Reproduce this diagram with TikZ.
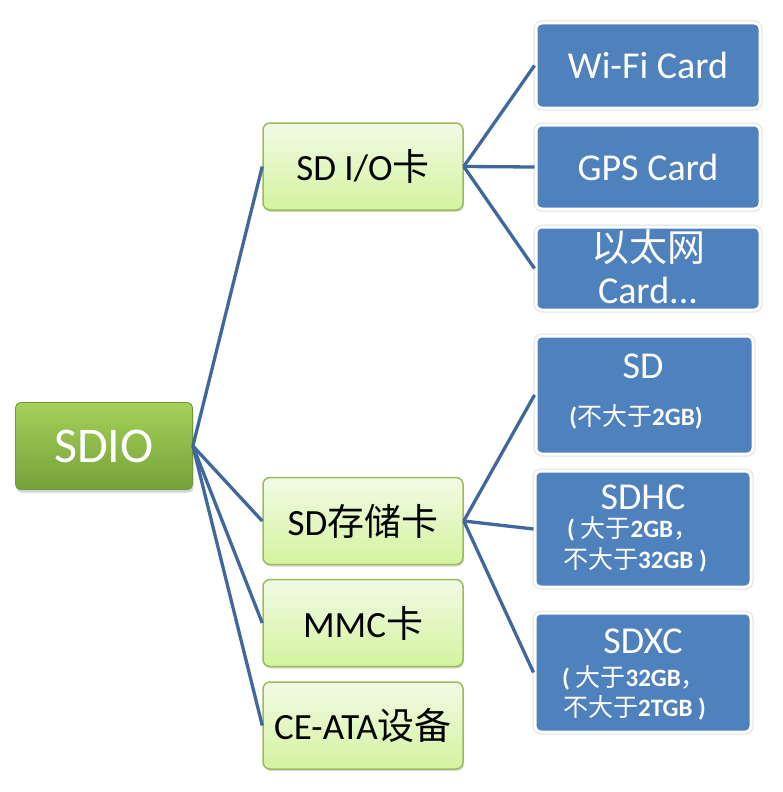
\documentclass[tikz,border=0pt]{standalone}
\usepackage{fontspec}
\setmainfont{Carlito}
\newfontfamily\cjk{Noto Sans CJK SC}
\newcommand{\cj}[1]{{\cjk #1}}
\newcommand{\cjm}[1]{{\cjk\mdseries #1}}
\usetikzlibrary{shadows}
\definecolor{lineblue}{HTML}{41689C}
\definecolor{boxblue}{HTML}{4F81BD}
\definecolor{rootA}{HTML}{A5D05A}
\definecolor{rootB}{HTML}{76A23A}
\definecolor{rootE}{HTML}{6F9638}
\definecolor{lgA}{HTML}{F2FBE6}
\definecolor{lgB}{HTML}{D4F39E}
\definecolor{lgE}{HTML}{9BBB59}
\tikzset{
  rootbox/.style={rounded corners=5pt, draw=rootE, line width=0.8pt,
    top color=rootA, bottom color=rootB, minimum width=177pt, minimum height=87pt,
    drop shadow={shadow xshift=1pt, shadow yshift=-3pt, opacity=0.35},
    text=white, font=\fontsize{50}{60}\selectfont, inner sep=0pt},
  midbox/.style={rounded corners=7pt, draw=lgE, line width=1.5pt,
    top color=lgA, bottom color=lgB, minimum width=200pt, minimum height=87pt,
    drop shadow={shadow xshift=1pt, shadow yshift=-2pt, opacity=0.3},
    font=\fontsize{37}{44}\selectfont, inner sep=0pt},
  leafbox/.style={rounded corners=6pt, fill=boxblue, draw=white, line width=3pt,
    preaction={draw=black!12, line width=5pt, rounded corners=6pt},
    inner sep=0pt},
  leaftext/.style={text=white, font=\fontsize{38}{40}\selectfont, inner sep=0pt},
  subtext/.style={text=white, font=\fontsize{25}{31}\selectfont\bfseries, inner sep=0pt},
  conn/.style={draw=lineblue, line width=3.3pt},
}
\begin{document}
\begin{tikzpicture}[x=1pt, y=-1pt]
\useasboundingbox (0,0) rectangle (782,792);

% leaf boxes
\node[leafbox, minimum width=224pt, minimum height=85pt] (wifi) at (648,65.5) {};
\node[leafbox, minimum width=224pt, minimum height=84pt] (gps) at (648,167) {};
\node[leafbox, minimum width=224pt, minimum height=83pt] (eth) at (648,268.5) {};
\node[leafbox, minimum width=217pt, minimum height=118pt] (sd) at (644.5,395) {};
\node[leafbox, minimum width=216pt, minimum height=116pt] (sdhc) at (643,529) {};
\node[leafbox, minimum width=216pt, minimum height=119pt] (sdxc) at (643,672.5) {};

\node[leaftext] (wifiT) at (648,65) {Wi-Fi Card};
\node[leaftext] (gpsT) at (648,167) {GPS Card};
\node[leaftext] (ethT1) at (648,247) {\cj{以太网}};
\node[leaftext] (ethT2) at (648,290) {Card...};

\node[leaftext] (sdT) at (643,366) {SD};
\node[subtext] (sdS) at (636,417) {(\cjm{不大于}2GB)};

\node[leaftext] (sdhcT) at (643,497) {SDHC};
\node[subtext, anchor=west] (sdhcS1) at (567,529) {( \cjm{大于}2GB\cjm{，}};
\node[subtext, anchor=west] (sdhcS2) at (563,560) {\cjm{不大于}32GB )};

\node[leaftext] (sdxcT) at (643,641) {SDXC};
\node[subtext, anchor=west] (sdxcS1) at (562,678) {( \cjm{大于}32GB\cjm{，}};
\node[subtext, anchor=west] (sdxcS2) at (563,708) {\cjm{不大于}2TGB )};

% middle boxes
\node[midbox] (io) at (363,166.5) {SD I/O\cj{卡}};
\node[midbox] (mem) at (363,521) {SD\cj{存储卡}};
\node[midbox] (mmc) at (363,623) {MMC\cj{卡}};
\node[midbox] (ata) at (363,725.5) {CE-ATA\cj{设备}};

% root
\node[rootbox] (root) at (104,446) {SDIO};

% connectors
\draw[conn] (root.east) -- (io.west);
\draw[conn] (root.east) -- (mem.west);
\draw[conn] (root.east) -- (mmc.west);
\draw[conn] (root.east) -- (ata.west);
\draw[conn] (io.east) -- (wifi.west);
\draw[conn] (io.east) -- (gps.west);
\draw[conn] (io.east) -- (eth.west);
\draw[conn] (mem.east) -- (sd.west);
\draw[conn] (mem.east) -- (sdhc.west);
\draw[conn] (mem.east) -- (sdxc.west);
\end{tikzpicture}
\end{document}
